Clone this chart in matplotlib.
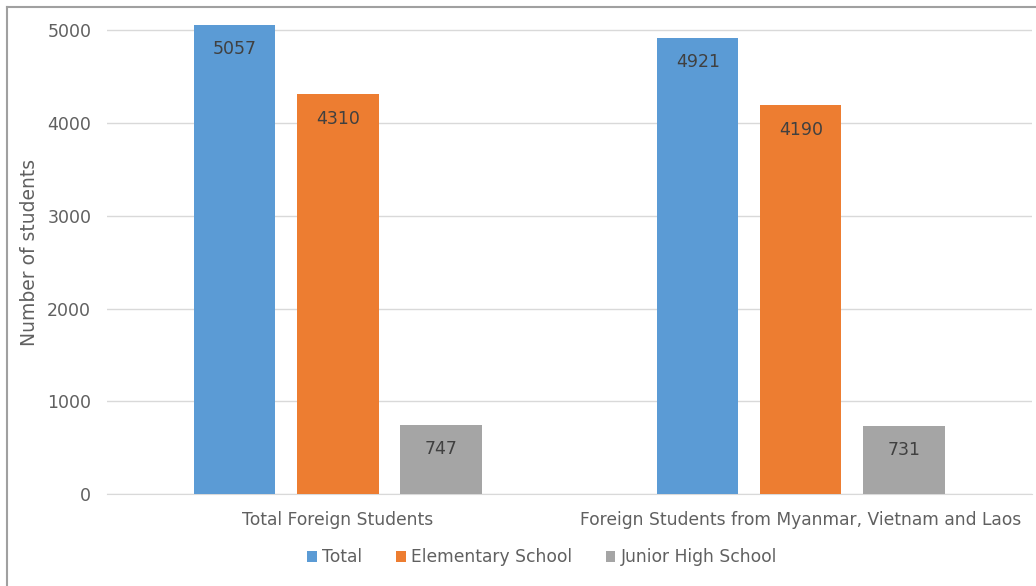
import numpy as np
import matplotlib.pyplot as plt
from matplotlib.lines import Line2D

# datos
categorias = ["Total Foreign Students", "Foreign Students from Myanmar, Vietnam and Laos"]
series = ["Total", "Elementary School", "Junior High School"]
total = [5057, 4921]
primaria = [4310, 4190]
secundaria = [747, 731]
colores = ["#5B9BD5", "#ED7D31", "#A5A5A5"]

fig = plt.figure(figsize=(10.36, 5.86), dpi=100)
ax = fig.add_axes([0.1028, 0.157, 0.8938, 0.823])

x = np.arange(len(categorias))
ancho = 0.175
paso = 0.2225
for i, (nombre, vals) in enumerate(zip(series, [total, primaria, secundaria])):
    barras = ax.bar(x + (i - 1) * paso, vals, ancho, color=colores[i], label=nombre, zorder=3)
    for b, v in zip(barras, vals):
        ax.annotate(str(v), (b.get_x() + b.get_width() / 2, v), xytext=(0, -11),
                    textcoords="offset points", ha="center", va="top",
                    fontsize=12.5, color="#404040", zorder=4)

ax.set_xlim(-0.5, 1.5)
ax.set_ylim(0, 5200)
ax.set_yticks(np.arange(0, 5001, 1000))
ax.set_xticks(x)
ax.set_xticklabels(categorias, fontsize=12.3, color="#606060")
ax.tick_params(axis="y", labelsize=12.5, labelcolor="#606060", length=0, pad=11)
ax.tick_params(axis="x", length=0, pad=12)
ax.set_ylabel("Number of students", fontsize=13.5, color="#606060", labelpad=6)

# grilla
ax.grid(axis="y", color="#d9d9d9", linewidth=1, zorder=0)
for s in ["top", "right", "left"]:
    ax.spines[s].set_visible(False)
ax.spines["bottom"].set_color("#d9d9d9")

ax.legend(loc="upper center", bbox_to_anchor=(0.4705, -0.081), ncol=3, frameon=False,
          fontsize=12.3, handlelength=0.55, handleheight=0.55, handletextpad=0.3,
          columnspacing=2.0, labelcolor="#606060")

# borde del grafico
fig.add_artist(Line2D([0.0068, 0.0068], [0, 0.988], transform=fig.transFigure, color="#a0a0a0", lw=1.5))
fig.add_artist(Line2D([0.0068, 1], [0.988, 0.988], transform=fig.transFigure, color="#a0a0a0", lw=1.5))

fig.savefig("out.png", dpi=100)
